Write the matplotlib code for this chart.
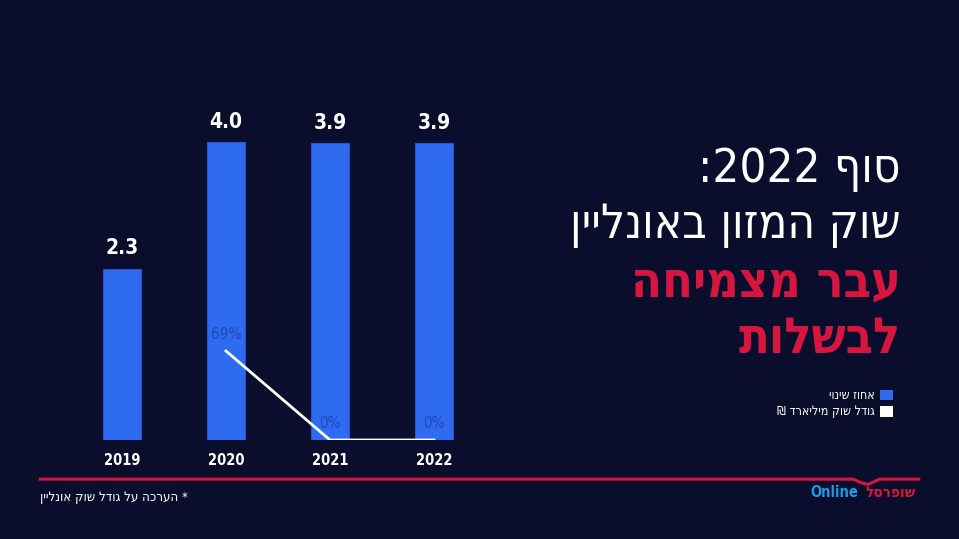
import re
import matplotlib
matplotlib.use("Agg")
import matplotlib.pyplot as plt
from matplotlib.patches import Rectangle

years = ["2019", "2020", "2021", "2022"]
market_size = [2.3, 4.0, 3.98, 3.98]
size_labels = ["2.3", "4.0", "3.9", "3.9"]
change_years = [1, 2, 3]
change_pct = [69, 0, 0]
change_labels = ["69%", "0%", "0%"]

title_lines = ["סוף 2022:", "שוק המזון באונליין"]
accent_lines = ["עבר מצמיחה", "לבשלות"]
legend_labels = ["אחוז שינוי", "גודל שוק מיליארד ₪"]
footnote = "* הערכה על גודל שוק אונליין"

BG = "#0a0d2b"
BLUE = "#2f6bf0"
RED = "#d7163f"
FAM = ["DejaVu Sans"]


def rtl(s):
    # matplotlib has no bidi support, so flip Hebrew and keep numbers readable
    r = s[::-1]
    return re.sub(r"[0-9.%]+", lambda m: m.group(0)[::-1], r)


fig = plt.figure(figsize=(9.59, 5.39), dpi=100, facecolor=BG)

ax = fig.add_axes([0.06215, 0.18367, 0.45548, 0.6911])
ax.set_facecolor("none")
x = range(len(years))
ax.bar(x, market_size, width=0.365, color=BLUE, edgecolor="#2a55c8", linewidth=0.8)
ax.set_xlim(-0.6, 3.6)
ax.set_ylim(0, 5)
for i, lab in enumerate(size_labels):
    ax.text(i, market_size[i] + 0.14, lab, ha="center", va="bottom", color="white",
            fontsize=15, fontweight="bold", family=FAM, stretch="condensed")
for i, y in enumerate(years):
    ax.text(i, -0.27, y, ha="center", va="center", color="white",
            fontsize=10.5, fontweight="bold", family=FAM, stretch="condensed")
ax.axis("off")

ax2 = ax.twinx()
ax2.set_ylim(0, 69 * 372.5 / 89)
ax2.plot(change_years, change_pct, color="white", linewidth=2)
for xi, v, lab in zip(change_years, change_pct, change_labels):
    ax2.text(xi, v + 7, lab, ha="center", va="bottom", color="#2446b8",
             fontsize=11, family=FAM, stretch="condensed")
ax2.axis("off")

# title block
for t, y in zip(title_lines, [0.662, 0.558]):
    fig.text(0.939, y, rtl(t), ha="right", va="baseline", color="white",
             fontsize=34, family=FAM, stretch="condensed")
for t, y in zip(accent_lines, [0.449, 0.345]):
    fig.text(0.939, y, rtl(t), ha="right", va="baseline", color=RED,
             fontsize=36, fontweight="bold", family=FAM, stretch="condensed")

# legend
for (col, lab, y) in zip([BLUE, "white"], legend_labels, [0.267, 0.237]):
    fig.patches.append(Rectangle((0.918, y - 0.01), 0.013, 0.02, transform=fig.transFigure,
                                 facecolor=col, edgecolor="none"))
    fig.text(0.912, y, rtl(lab), ha="right", va="center", color="white",
             fontsize=9, family=FAM, stretch="condensed")

# bottom rule with the logo's little book fold, footnote and logo
fig.add_artist(plt.Line2D([0.042, 0.890, 0.897, 0.905, 0.910, 0.917, 0.958],
                          [0.111, 0.111, 0.105, 0.101, 0.105, 0.111, 0.111],
                          color=RED, linewidth=2.2, transform=fig.transFigure))
fig.text(0.042, 0.077, rtl(footnote), ha="left", va="center", color="white",
         fontsize=9.5, family=FAM, stretch="condensed")
fig.text(0.955, 0.087, rtl("שופרסל"), ha="right", va="center", color=RED,
         fontsize=11, fontweight="bold", family=FAM, stretch="condensed")
fig.text(0.895, 0.087, "Online", ha="right", va="center", color="#1f9be3",
         fontsize=10.5, fontweight="bold", family=FAM, stretch="condensed")

fig.savefig("out.png", dpi=100, facecolor=BG)
